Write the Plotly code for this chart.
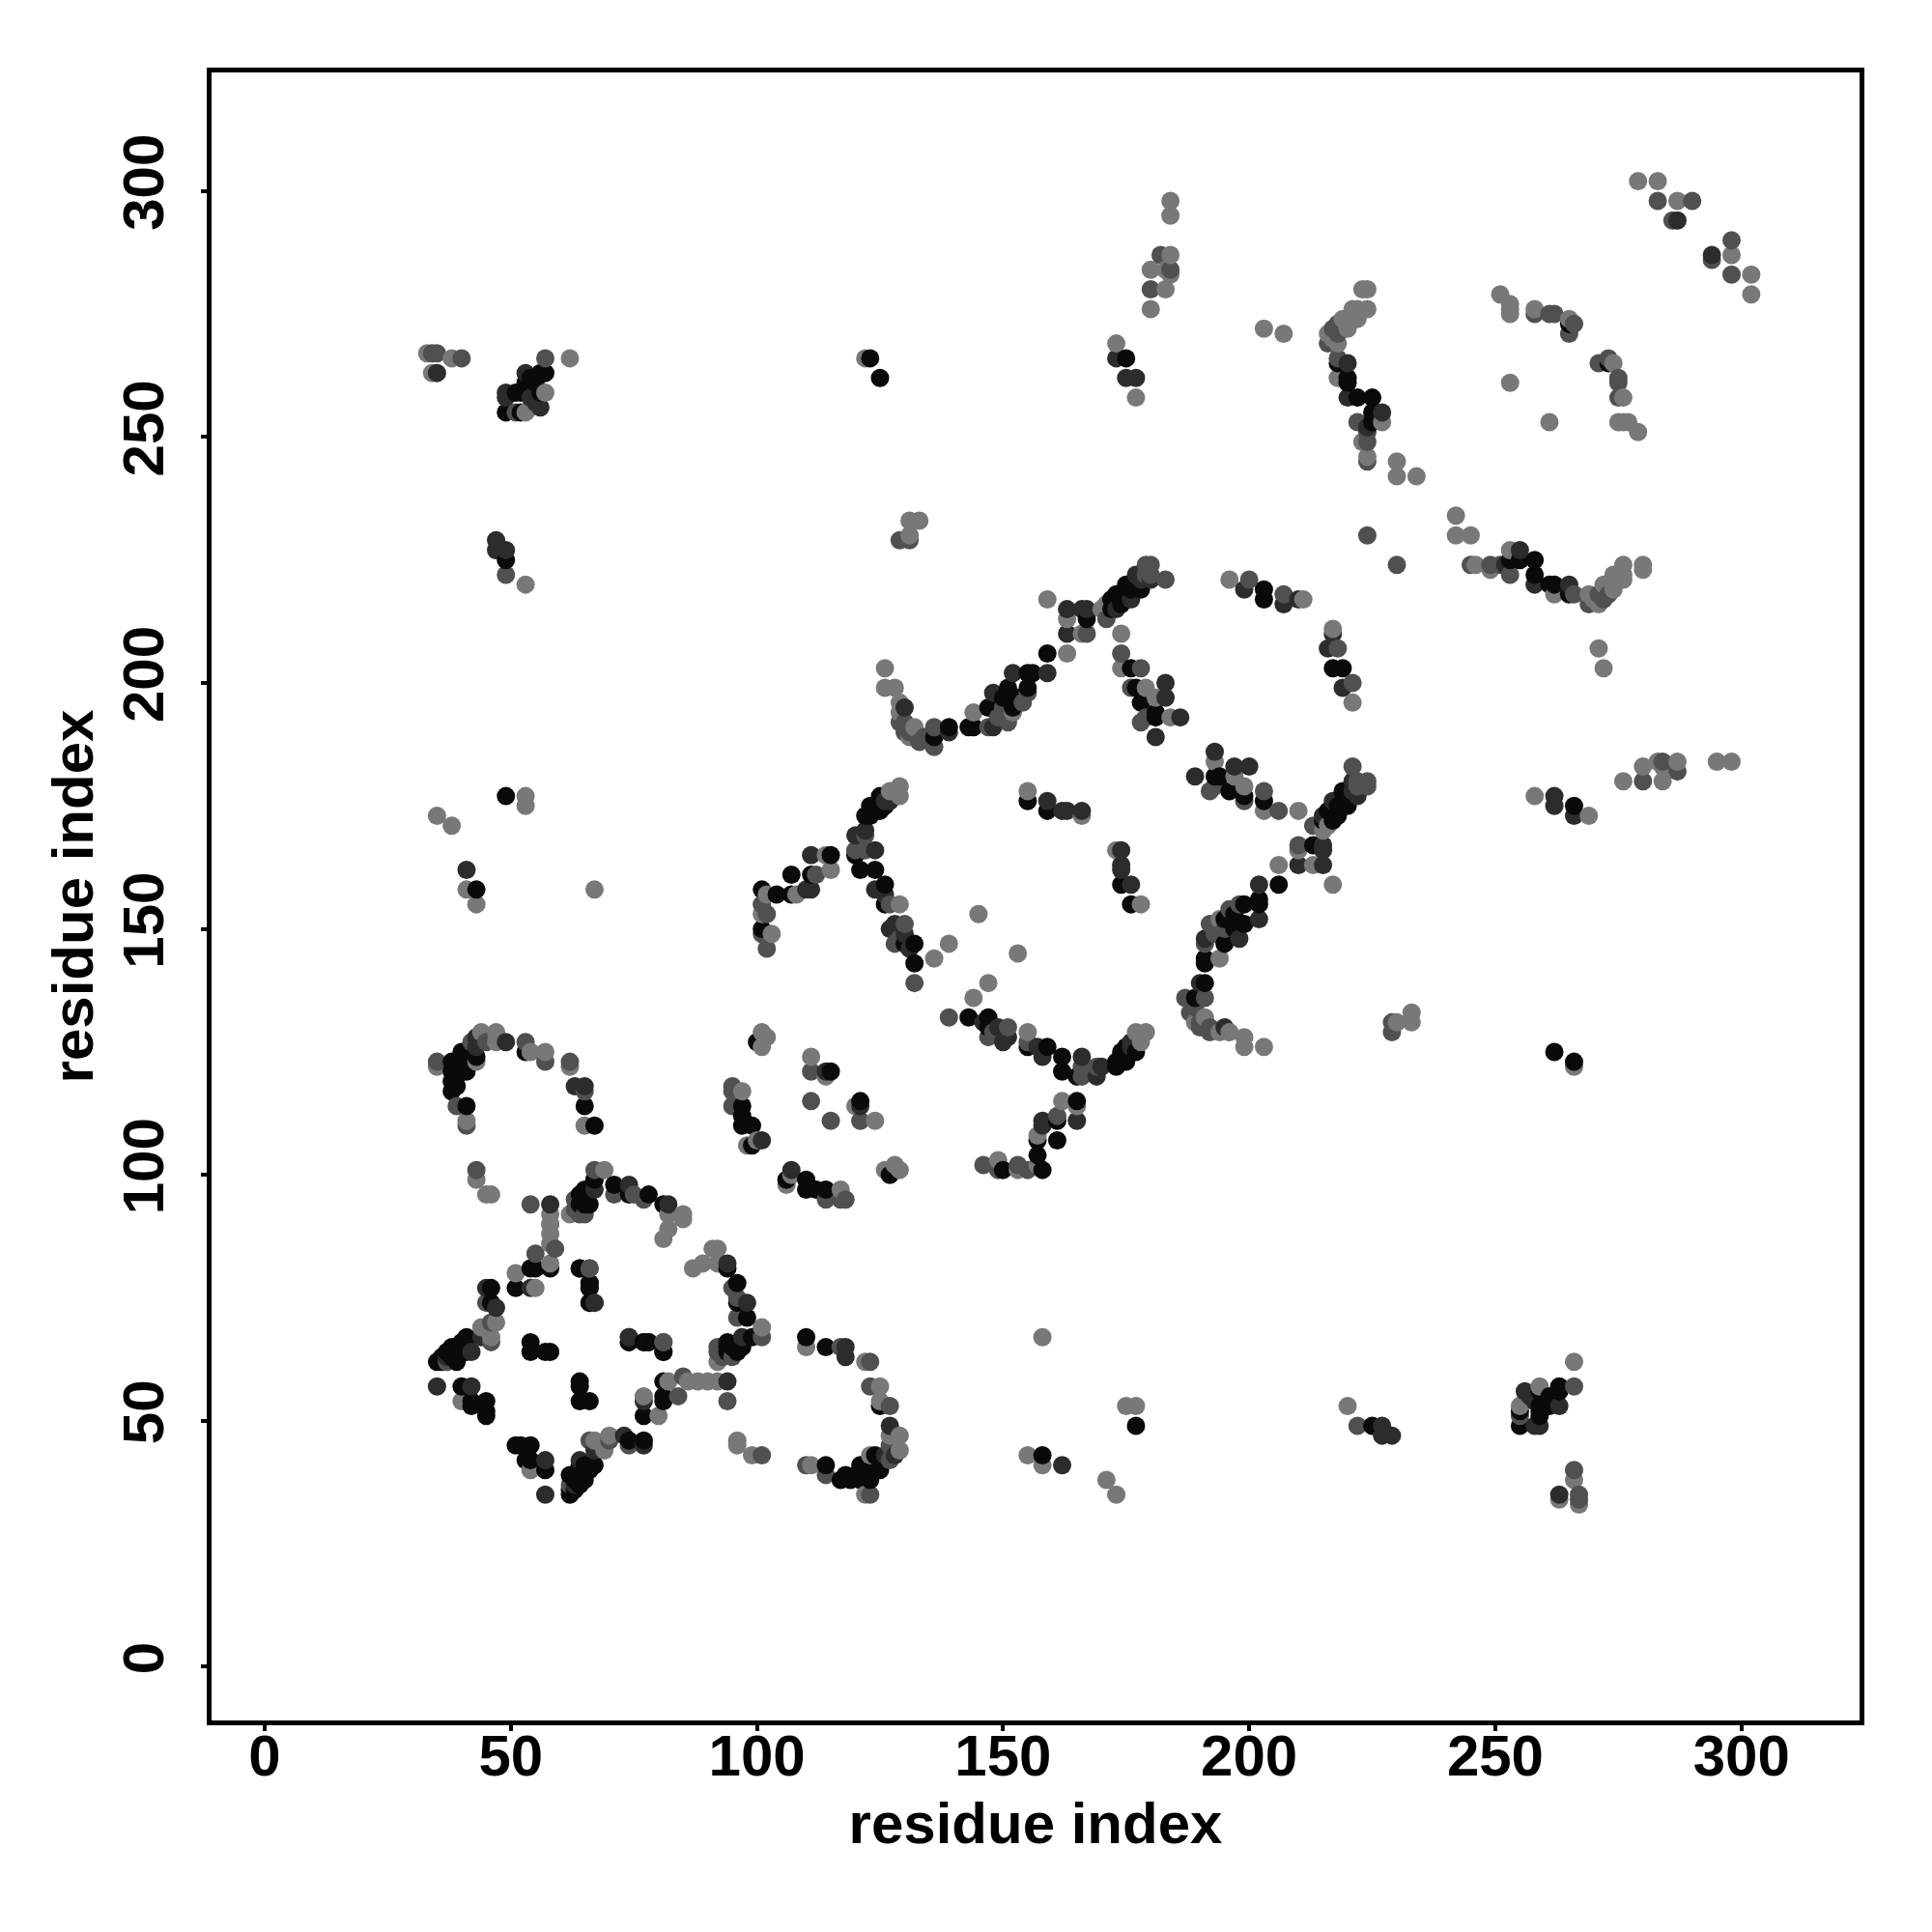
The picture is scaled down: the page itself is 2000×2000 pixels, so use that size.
import plotly.graph_objects as go

tick_values = [0, 50, 100, 150, 200, 250, 300]
axis_title = "residue index"

contacts_black = [
 (35,62),(38,63),(39,62),(39,64),(39,65),(40,65),(41,64),(41,67),(46,74),(46,77),(51,77),(54,81),(55,81),(58,81),
 (64,81),(66,78),(66,77),(66,74),(54,66),(54,64),(57,64),(58,64),(74,66),(77,66),(40,57),(42,54),(42,53),(45,54),(45,52),(45,51),
 (67,99),(65,97),(66,94),(64,96),(64,94),(74,96),(78,96),(81,94),(71,98),
 (38,123),(38,121),(39,118),(40,125),(41,121),(43,124),(41,114),(53,125),(65,114),(67,110),
 (99,110),(97,110),(97,112),(97,114),(99,106),(100,127),(115,121),
 (56,263),(57,263),(52,259),(53,259),(56,259),(49,255),(52,255),(53,261),(49,225),(49,177),(43,158),(123,266),(125,262),
 (125,177),(123,175),(125,174),(122,173),(120,165),(121,162),(124,162),(126,159),(126,155),(130,147),(132,147),(132,143),
 (115,165),(111,161),(107,161),(107,157),(104,157),(101,158),(101,150),(155,176),(159,174),
 (136,189),(139,191),(143,191),(144,191),(147,195),(151,199),(152,195),(155,202),(156,202),(155,199),(159,206),
 (167,213),(173,218),(174,216),(175,220),(178,219),(176,203),(177,199),(178,196),(181,194),(181,193),(203,219),(203,217),
 (218,265),(220,262),(220,261),(222,258),(225,258),(225,255),(225,253),(265,273),(175,266),
 (65,94),(65,95),(36,62),(36,63),(37,64),(38,65),(41,65),(40,66),(38,117),(38,119),(39,120),(40,122),(41,122),(42,125),
 (172,217),(172,215),(175,218),(176,219),(177,220),(123,173),(124,174),(126,175),(150,197),(153,197),(51,259),(55,261),(54,262),
]
contacts_dark = [
 (35,57),(42,57),(35,263),(49,259),(49,258),(56,256),(49,227),(47,227),(43,128),(49,127),(63,118),(65,118),(114,121),(101,107),
 (37,63),(45,77),(42,64),(44,67),(54,77),(74,67),(78,66),(81,64),(67,74),(74,98),(82,94),(58,94),(67,97),(47,73),
 (122,170),(120,169),(124,158),(126,157),(128,151),(130,149),(111,165),(110,158),(111,158),(159,176),(162,174),(163,174),(166,174),
 (139,190),(148,198),(148,191),(152,202),(159,202),(163,215),(163,210),(166,215),(167,215),(173,215),(176,217),(177,222),
 (180,221),(183,200),(181,189),(199,219),(207,216),(210,217),(220,265),(220,258),(227,255),(287,294),(173,266),(177,262),
 (175,262),(53,263),(47,229),(41,162),(124,166),(183,197),(186,193),(130,195),(126,176),
 (43,126),(178,221),(127,176),(127,150),(54,258),(55,257),(224,252),(131,146),
]
contacts_mid = [
 (35,123),(39,114),(41,110),(53,127),(57,123),(62,123),(65,117),(42,127),(45,127),(43,101),(54,94),(59,85),(55,84),
 (67,101),(63,95),(64,92),(71,96),(75,96),(77,95),(37,62),(46,66),(46,70),(45,74),(66,81),(81,66),
 (34,267),(35,267),(40,266),(57,266),(51,255),(49,222),(95,118),(95,117),(95,114),(115,111),(111,121),
 (120,166),(122,169),(122,166),(127,155),(130,151),(128,147),(132,139),(102,146),(102,153),(101,155),(101,149),(112,161),
 (129,192),(130,192),(131,191),(133,188),(134,189),(136,191),(136,187),(147,191),(150,195),(151,192),(155,198),(167,210),(171,213),
 (179,224),(180,224),(180,222),(183,221),(174,206),(178,203),(176,199),(178,192),(179,193),(200,221),(207,218),
 (218,273),(219,272),(218,271),(216,269),(218,266),(222,253),(224,251),(224,249),(224,245),(224,230),
 (258,275),(261,275),(262,275),(266,273),(265,271),(283,298),(290,298),(286,294),(180,280),(182,287),(184,284),
 (129,229),(131,229),
 (63,93),(65,92),(131,190),(130,190),(149,193),(179,222),(129,148),(217,272),(154,196),
]
contacts_light = [
 (35,122),(43,123),(44,129),(47,129),(47,127),(41,111),(54,125),(57,125),(62,122),(65,110),(43,99),(45,96),(46,96),
 (58,92),(58,90),(58,88),(58,86),(58,82),(51,80),(55,77),(44,69),(46,67),(47,70),(40,54),(69,101),(62,92),
 (85,92),(85,91),(82,92),(82,89),(81,87),(33,267),(38,266),(34,263),(62,266),(57,259),(53,255),(54,256),(53,220),
 (35,173),(38,171),(41,158),(43,155),(67,158),(53,177),(53,175),(122,266),
 (101,129),(102,128),(101,126),(111,124),(114,120),(97,117),(98,106),(100,107),
 (129,179),(129,177),(127,178),(129,155),(114,165),(115,162),(108,157),(102,157),(101,153),(103,149),
 (136,144),(139,147),(145,153),(155,178),(166,173),
 (126,203),(126,199),(128,199),(129,196),(129,194),(132,191),(131,189),(144,194),(152,194),(159,217),(163,213),(163,206),(166,210),
 (170,215),(171,216),(174,210),(174,203),(179,199),(181,197),(184,193),(196,221),(211,217),
 (203,272),(207,271),(224,280),(223,280),(224,276),(222,276),(221,276),(220,274),(222,274),(216,271),(218,269),(218,262),
 (227,253),(223,249),(224,246),(230,245),(230,242),(234,242),(251,279),(253,277),(253,276),(253,275),(258,276),(265,274),(253,261),
 (279,302),(283,302),(287,298),(173,269),(177,258),(180,276),(180,284),(184,298),(184,295),(184,287),(183,284),(183,280),(184,283),
 (131,230),(133,233),(131,233),
 (217,270),(219,274),(221,274),(220,272),
]
shades = [(contacts_light, "#787878"), (contacts_mid, "#505050"), (contacts_dark, "#2c2c2c"), (contacts_black, "#0a0a0a")]

# a contact map holds each pair twice; marks are drawn in ascending x, then y
marks = []
for pairs, colour in shades:
    for i, j in pairs:
        marks.append((i, j, colour))
        marks.append((j, i, colour))
marks.sort(key=lambda m: (m[0], m[1]))

fig = go.Figure(go.Scatter(
    x=[m[0] for m in marks], y=[m[1] for m in marks], mode="markers",
    marker=dict(size=19, color=[m[2] for m in marks], line=dict(width=0)),
    hoverinfo="skip"))

font = dict(family="Liberation Sans", size=60, color="black")
axis_common = dict(
    tickmode="array", tickvals=tick_values, ticktext=[f"<b>{v}</b>" for v in tick_values],
    ticks="outside", ticklen=6, tickwidth=4, tickcolor="black",
    showline=True, linecolor="black", linewidth=5, mirror=True, showgrid=False, zeroline=False,
    tickfont=font,
)
fig.update_xaxes(range=[-10.8, 324.0], ticklabelstandoff=-26,
                 title=dict(text=f"<b>{axis_title}</b>", standoff=17, font=font), **axis_common)
fig.update_yaxes(range=[-10.9, 324.1], tickangle=-90, ticklabelstandoff=15,
                 title=dict(text=f"<b>{axis_title}</b>", standoff=1, font=font), **axis_common)
fig.update_layout(width=2000, height=2000, autosize=False, showlegend=False,
                  margin=dict(l=211, r=83, t=67, b=227, pad=0),
                  plot_bgcolor="white", paper_bgcolor="white")
fig.write_html("out.html")
